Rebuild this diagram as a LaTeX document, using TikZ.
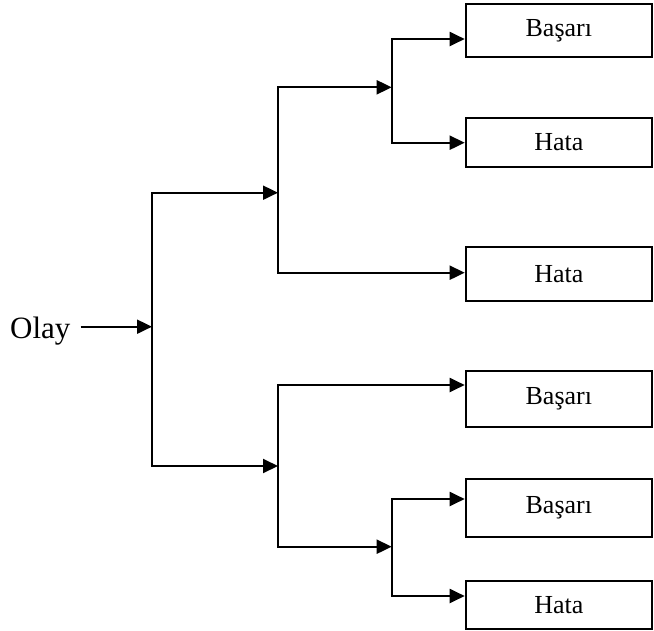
\documentclass[tikz,border=0pt]{standalone}
\usepackage{fontspec}
\setmainfont{Liberation Serif}
\usetikzlibrary{arrows.meta}

\tikzset{
	box/.style={shape=rectangle,draw=black,line width=2pt,minimum width=186.3pt,inner sep=0pt,font=\fontsize{26}{30}\selectfont},
	arr/.style={line width=2pt,-{Triangle[length=15pt,width=14pt]}},
	fork/.style={line width=2pt,{Triangle[length=15pt,width=14pt]}-{Triangle[length=15pt,width=14pt]}},
}

\begin{document}
\begin{tikzpicture}[x=1pt,y=-1pt]
	\useasboundingbox (0,0) rectangle (654,630);

	\node[anchor=base west,inner sep=0pt,font=\fontsize{31}{36}\selectfont] (olay) at (10,338.3) {Olay};

	\node[box,minimum height=52.7pt] (b1) at (558.85,30.35)  {Başarı};
	\node[box,minimum height=48.7pt] (b2) at (558.85,142.35) {Hata};
	\node[box,minimum height=54.3pt] (b3) at (558.85,273.85) {Hata};
	\node[box,minimum height=56pt]   (b4) at (558.85,398.7)  {Başarı};
	\node[box,minimum height=57.7pt] (b5) at (558.85,507.85) {Başarı};
	\node[box,minimum height=48.3pt] (b6) at (558.85,605.15) {Hata};

	% junction points
	\coordinate (r)  at (152,326.7);
	\coordinate (r1) at (152,192.7);
	\coordinate (r2) at (152,466);
	\coordinate (u)  at (278,192.7);
	\coordinate (u1) at (278,87.3);
	\coordinate (u2) at (278,272.7);
	\coordinate (v)  at (391.7,87.3);
	\coordinate (v1) at (391.7,39);
	\coordinate (v2) at (391.7,142.7);
	\coordinate (l)  at (278,466);
	\coordinate (l1) at (278,385);
	\coordinate (l2) at (278,546.7);
	\coordinate (w)  at (391.7,546.7);
	\coordinate (w1) at (391.7,499);
	\coordinate (w2) at (391.7,596);

	\draw[arr] ([xshift=10pt]olay.east |- r) -- (r);
	\draw[fork] (u) -- (r1) -- (r2) -- (l);
	\draw[fork] (v) -- (u1) -- (u2) -- (b3.west |- u2);
	\draw[fork] (b1.west |- v1) -- (v1) -- (v2) -- (b2.west |- v2);
	\draw[fork] (b4.west |- l1) -- (l1) -- (l2) -- (w);
	\draw[fork] (b5.west |- w1) -- (w1) -- (w2) -- (b6.west |- w2);
\end{tikzpicture}
\end{document}
